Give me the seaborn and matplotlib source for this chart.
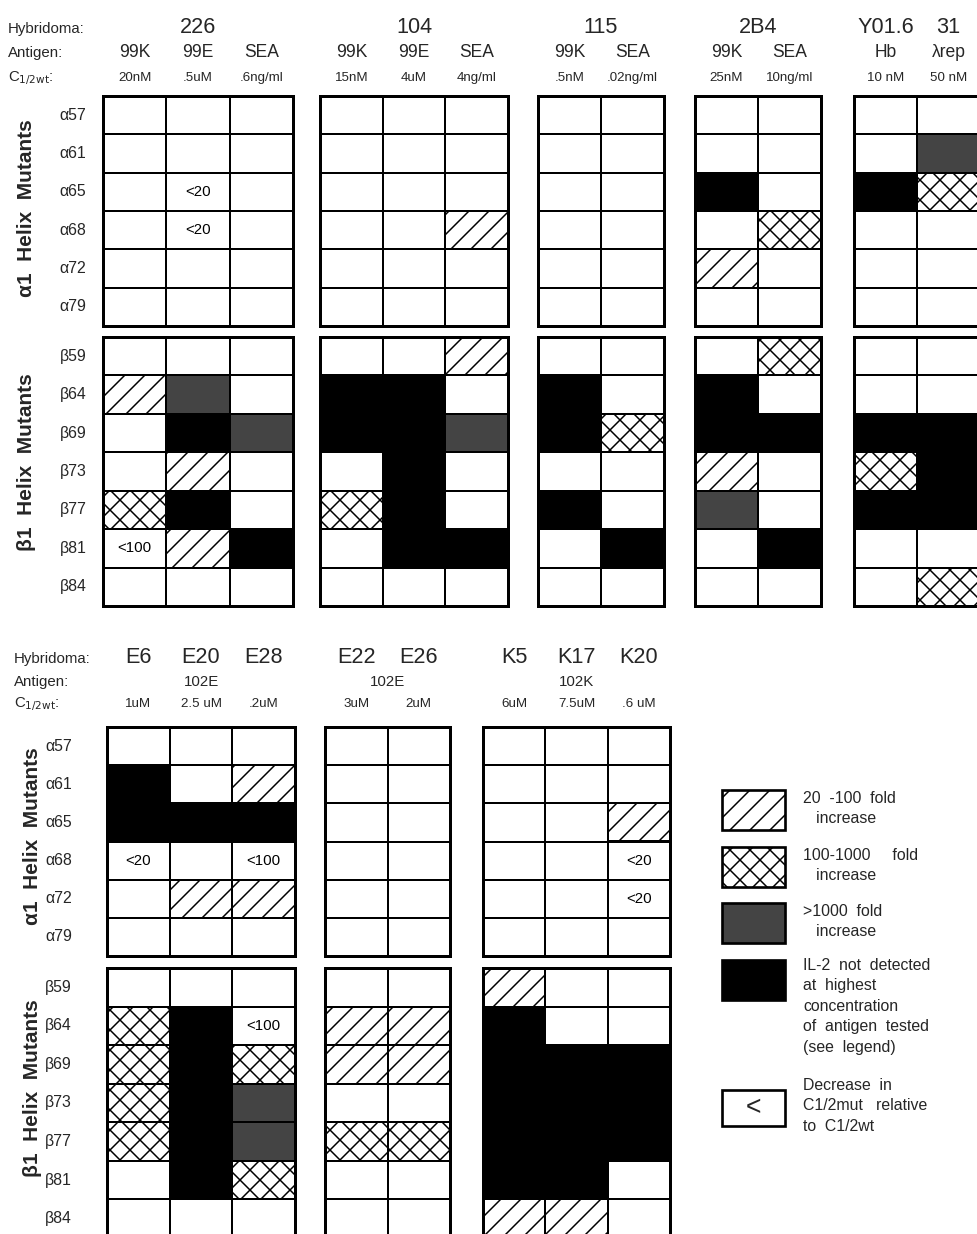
import numpy as np
import matplotlib
matplotlib.use("Agg")
import matplotlib.pyplot as plt
from matplotlib.colors import ListedColormap
from matplotlib.patches import Rectangle
import seaborn as sns

W, H, DPI = 977, 1234, 120

# response codes: 0 = <20 fold, 1 = 20-100 fold, 2 = 100-1000 fold,
# 3 = >1000 fold, 4 = IL-2 not detected
alpha_rows = ["α57", "α61", "α65", "α68", "α72", "α79"]
beta_rows = ["β59", "β64", "β69", "β73", "β77", "β81", "β84"]

# ---- top row ----
h226_names = ["226"]
h226_antigens = ["99K", "99E", "SEA"]
h226_conc = ["20nM", ".5uM", ".6ng/ml"]
h226_alpha = [[0, 0, 0], [0, 0, 0], [0, 0, 0], [0, 0, 0], [0, 0, 0], [0, 0, 0]]
h226_beta = [[0, 0, 0], [1, 3, 0], [0, 4, 3], [0, 1, 0], [2, 4, 0], [0, 1, 4], [0, 0, 0]]
h226_alpha_notes = {(2, 1): "<20", (3, 1): "<20"}
h226_beta_notes = {(5, 0): "<100"}

h104_names = ["104"]
h104_antigens = ["99K", "99E", "SEA"]
h104_conc = ["15nM", "4uM", "4ng/ml"]
h104_alpha = [[0, 0, 0], [0, 0, 0], [0, 0, 0], [0, 0, 1], [0, 0, 0], [0, 0, 0]]
h104_beta = [[0, 0, 1], [4, 4, 0], [4, 4, 3], [0, 4, 0], [2, 4, 0], [0, 4, 4], [0, 0, 0]]

h115_names = ["115"]
h115_antigens = ["99K", "SEA"]
h115_conc = [".5nM", ".02ng/ml"]
h115_alpha = [[0, 0], [0, 0], [0, 0], [0, 0], [0, 0], [0, 0]]
h115_beta = [[0, 0], [4, 0], [4, 2], [0, 0], [4, 0], [0, 4], [0, 0]]

h2b4_names = ["2B4"]
h2b4_antigens = ["99K", "SEA"]
h2b4_conc = ["25nM", "10ng/ml"]
h2b4_alpha = [[0, 0], [0, 0], [4, 0], [0, 2], [1, 0], [0, 0]]
h2b4_beta = [[0, 2], [4, 0], [4, 4], [1, 0], [3, 0], [0, 4], [0, 0]]

hy01_names = ["Y01.6", "31"]
hy01_antigens = ["Hb", "λrep"]
hy01_conc = ["10 nM", "50 nM"]
hy01_alpha = [[0, 0], [0, 3], [4, 2], [0, 0], [0, 0], [0, 0]]
hy01_beta = [[0, 0], [0, 0], [4, 4], [2, 4], [4, 4], [0, 0], [0, 2]]

# ---- bottom row ----
he_names = ["E6", "E20", "E28"]
he_antigens = ["102E"]
he_conc = ["1uM", "2.5 uM", ".2uM"]
he_alpha = [[0, 0, 0], [4, 0, 1], [4, 4, 4], [0, 0, 0], [0, 1, 1], [0, 0, 0]]
he_beta = [[0, 0, 0], [2, 4, 0], [2, 4, 2], [2, 4, 3], [2, 4, 3], [0, 4, 2], [0, 0, 0]]
he_alpha_notes = {(3, 0): "<20", (3, 2): "<100"}
he_beta_notes = {(1, 2): "<100"}

he22_names = ["E22", "E26"]
he22_antigens = ["102E"]
he22_conc = ["3uM", "2uM"]
he22_alpha = [[0, 0], [0, 0], [0, 0], [0, 0], [0, 0], [0, 0]]
he22_beta = [[0, 0], [1, 1], [1, 1], [0, 0], [2, 2], [0, 0], [0, 0]]

hk_names = ["K5", "K17", "K20"]
hk_antigens = ["102K"]
hk_conc = ["6uM", "7.5uM", ".6 uM"]
hk_alpha = [[0, 0, 0], [0, 0, 0], [0, 0, 1], [0, 0, 0], [0, 0, 0], [0, 0, 0]]
hk_beta = [[1, 0, 0], [4, 0, 0], [4, 4, 4], [4, 4, 4], [4, 4, 4], [4, 4, 0], [1, 1, 0]]
hk_alpha_notes = {(3, 2): "<20", (4, 2): "<20"}

legend_labels = [
    "20  -100  fold\n   increase",
    "100-1000     fold\n   increase",
    ">1000  fold\n   increase",
    "IL-2  not  detected\nat  highest\nconcentration\nof  antigen  tested\n(see  legend)",
    "Decrease  in\nC1/2mut   relative\nto  C1/2wt",
]

GRAY = "#444444"
cmap = ListedColormap(["white", "white", "white", GRAY, "black"])
HATCH = {1: "//", 2: "xx"}

sns.set_theme(style="white")
plt.rcParams["font.family"] = ["Liberation Sans", "DejaVu Sans"]
plt.rcParams["hatch.linewidth"] = 0.9
plt.rcParams["hatch.color"] = "black"

fig = plt.figure(figsize=(W / DPI, H / DPI), dpi=DPI)
fig.patch.set_facecolor("white")

# pixel overlay for headers and legend
lay = fig.add_axes([0, 0, 1, 1])
lay.set_xlim(0, W)
lay.set_ylim(H, 0)
lay.axis("off")


def draw_block(codes, notes, x0, x1, y0, y1, rows=None, pad=0):
    codes = np.array(codes)
    ax = fig.add_axes([x0 / W, 1 - y1 / H, (x1 - x0) / W, (y1 - y0) / H])
    annot = np.full(codes.shape, "", dtype=object)
    for (r, c), s in notes.items():
        annot[r, c] = s
    sns.heatmap(codes, ax=ax, cmap=cmap, vmin=-0.5, vmax=4.5, cbar=False,
                linewidths=1.2, linecolor="black", annot=annot, fmt="",
                annot_kws={"fontsize": 9, "color": "black"},
                xticklabels=False, yticklabels=rows if rows else False)
    for code, hatch in HATCH.items():
        for r, c in zip(*np.nonzero(codes == code)):
            ax.add_patch(Rectangle((c, r), 1, 1, facecolor="none",
                                   edgecolor="black", hatch=hatch, lw=1.2))
    for sp in ax.spines.values():
        sp.set_visible(True)
        sp.set_linewidth(1.8)
        sp.set_color("black")
    if rows:
        ax.tick_params(axis="y", length=0, pad=pad, labelsize=9.5)
        plt.setp(ax.get_yticklabels(), rotation=0)
    return ax


def put_labels(labels, x0, x1, n, y, **kw):
    if len(labels) == 1:
        xs = [(x0 + x1) / 2]
    else:
        w = (x1 - x0) / n
        xs = [x0 + w * (i + 0.5) for i in range(n)]
    for x, s in zip(xs, labels):
        lay.text(x, y, s, ha="center", va="baseline", **kw)


top_panels = [
    (h226_names, h226_antigens, h226_conc, h226_alpha, h226_beta, h226_alpha_notes, h226_beta_notes),
    (h104_names, h104_antigens, h104_conc, h104_alpha, h104_beta, {}, {}),
    (h115_names, h115_antigens, h115_conc, h115_alpha, h115_beta, {}, {}),
    (h2b4_names, h2b4_antigens, h2b4_conc, h2b4_alpha, h2b4_beta, {}, {}),
    (hy01_names, hy01_antigens, hy01_conc, hy01_alpha, hy01_beta, {}, {}),
]
top_x = [(103, 293), (320, 508), (538, 664), (695, 821), (854, 980)]

bottom_panels = [
    (he_names, he_antigens, he_conc, he_alpha, he_beta, he_alpha_notes, he_beta_notes),
    (he22_names, he22_antigens, he22_conc, he22_alpha, he22_beta, {}, {}),
    (hk_names, hk_antigens, hk_conc, hk_alpha, hk_beta, hk_alpha_notes, {}),
]
bottom_x = [(107, 295), (325, 450), (483, 670)]

rows_layout = [
    # panels, xs, alpha y, beta y, header baselines, left x, ylabel pad, side label x, side label y
    (top_panels, top_x, (96, 326), (337, 606), (33, 57, 81), 8, 10, 27, (208, 462), 10.5),
    (bottom_panels, bottom_x, (727, 956), (968, 1238), (663, 686, 707), 14, 21, 32, (836, 1088), 9),
]

for panels, xs, ay, by, (yn, ya, yc), lx, pad, sx, (sya, syb), asz in rows_layout:
    lay.text(lx, yn, "Hybridoma:", ha="left", va="baseline", fontsize=9)
    lay.text(lx, ya, "Antigen:", ha="left", va="baseline", fontsize=9)
    lay.text(lx, yc, r"C$_{1/2\mathrm{wt}}$:", ha="left", va="baseline", fontsize=9)
    for i, (names, antigens, conc, alpha, beta, an, bn) in enumerate(panels):
        x0, x1 = xs[i]
        n = len(alpha[0])
        first = i == 0
        draw_block(alpha, an, x0, x1, ay[0], ay[1], alpha_rows if first else None, pad)
        draw_block(beta, bn, x0, x1, by[0], by[1], beta_rows if first else None, pad)
        put_labels(names, x0, x1, n, yn, fontsize=13)
        put_labels(antigens, x0, x1, n, ya, fontsize=asz)
        put_labels(conc, x0, x1, n, yc, fontsize=8)
    lay.text(sx, sya, "α1  Helix  Mutants", rotation=90, ha="center", va="center",
             fontsize=12.5, fontweight="bold")
    lay.text(sx, syb, "β1  Helix  Mutants", rotation=90, ha="center", va="center",
             fontsize=12.5, fontweight="bold")

# legend
leg_boxes = [(790, 830), (847, 887), (903, 943), (960, 1000), (1090, 1126)]
leg_text_y = [791, 848, 904, 958, 1078]
for k, ((t, b), ty, txt) in enumerate(zip(leg_boxes, leg_text_y, legend_labels)):
    if k < 4:
        face = [("white", "//"), ("white", "xx"), (GRAY, None), ("black", None)][k]
        lay.add_patch(Rectangle((722, t), 63, b - t, facecolor=face[0], edgecolor="black",
                                hatch=face[1], lw=1.6))
    else:
        lay.add_patch(Rectangle((722, t), 63, b - t, facecolor="white",
                                edgecolor="black", lw=1.6))
        lay.text(753, (t + b) / 2, "<", ha="center", va="center", fontsize=16)
    lay.text(803, ty, txt, ha="left", va="top", fontsize=9.5, linespacing=1.45)

fig.savefig("out.png", dpi=DPI, facecolor="white")
